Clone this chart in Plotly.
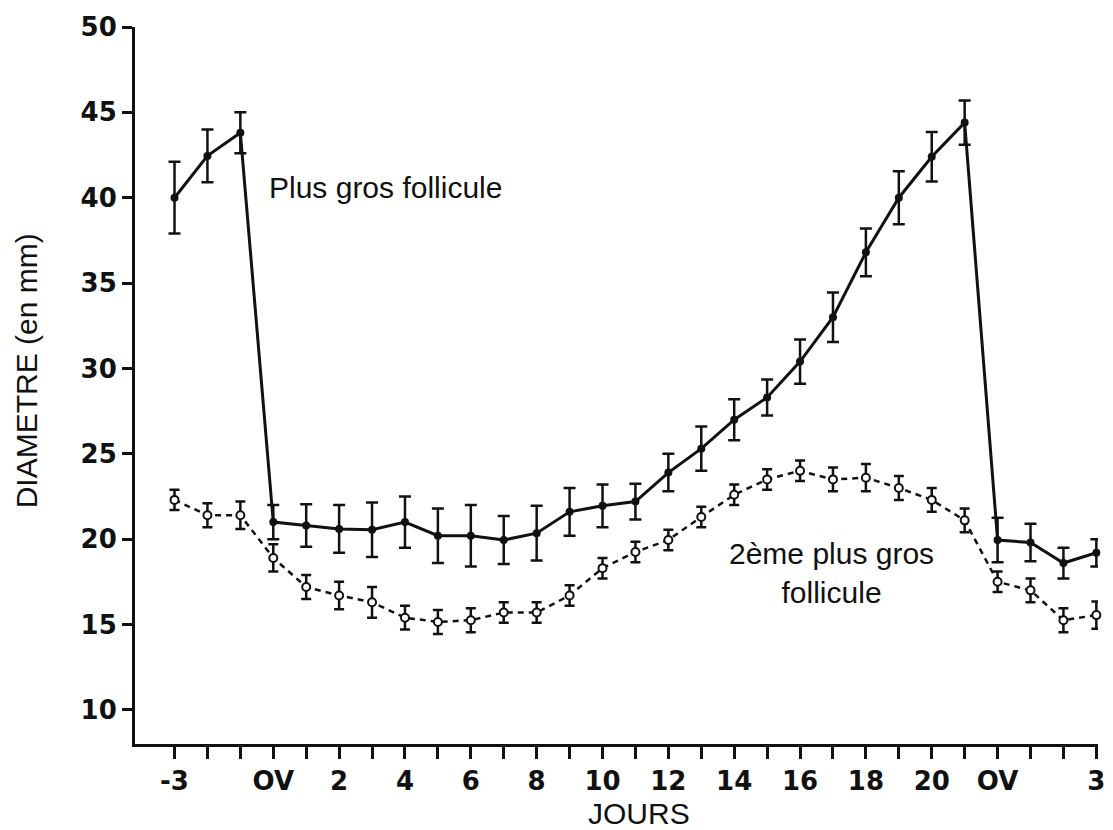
import plotly.graph_objects as go

days = list(range(-3, 26))

plus_gros = [40.0, 42.45, 43.8,
             21.0, 20.8, 20.6, 20.55, 21.0, 20.2, 20.2, 19.95, 20.35, 21.6, 21.95,
             22.2, 23.9, 25.3, 27.0, 28.3, 30.4, 33.0, 36.8, 40.0, 42.4, 44.4,
             19.95, 19.8, 18.6, 19.2]
plus_gros_err = [2.1, 1.55, 1.2,
                 1.0, 1.25, 1.4, 1.6, 1.5, 1.6, 1.8, 1.4, 1.6, 1.4, 1.25,
                 1.05, 1.1, 1.3, 1.2, 1.05, 1.3, 1.45, 1.4, 1.55, 1.45, 1.3,
                 1.3, 1.1, 0.9, 0.8]

deuxieme = [22.3, 21.4, 21.4,
            18.9, 17.2, 16.7, 16.3, 15.4, 15.15, 15.25, 15.7, 15.7, 16.7, 18.3,
            19.25, 19.95, 21.3, 22.6, 23.5, 24.0, 23.5, 23.6, 23.0, 22.3, 21.1,
            17.5, 17.0, 15.25, 15.55]
deuxieme_err = [0.6, 0.7, 0.8,
                0.8, 0.7, 0.8, 0.9, 0.7, 0.7, 0.7, 0.6, 0.6, 0.6, 0.6,
                0.6, 0.6, 0.6, 0.6, 0.6, 0.6, 0.7, 0.8, 0.7, 0.7, 0.7,
                0.6, 0.7, 0.7, 0.8]

tick_labels = {-3: "-3", 0: "OV", 2: "2", 4: "4", 6: "6", 8: "8", 10: "10",
               12: "12", 14: "14", 16: "16", 18: "18", 20: "20", 22: "OV", 25: "3"}
y_ticks = [10, 15, 20, 25, 30, 35, 40, 45, 50]

INK = "#111111"

fig = go.Figure()

fig.add_trace(go.Scatter(
    x=days, y=deuxieme, mode="lines+markers",
    line=dict(color=INK, width=2.5, dash="6px,5px"),
    marker=dict(symbol="circle", size=8, color="white", line=dict(color=INK, width=2)),
    error_y=dict(type="data", array=deuxieme_err, visible=True, color=INK, thickness=2.5, width=5),
    showlegend=False, cliponaxis=False,
))

fig.add_trace(go.Scatter(
    x=days, y=plus_gros, mode="lines+markers",
    line=dict(color=INK, width=3),
    marker=dict(symbol="circle", size=8, color=INK),
    error_y=dict(type="data", array=plus_gros_err, visible=True, color=INK, thickness=2.5, width=6),
    showlegend=False, cliponaxis=False,
))

tick_font = dict(family="DejaVu Sans", size=26, color=INK, weight="bold")
text_font = dict(family="Liberation Sans, Arial, sans-serif", size=30, color=INK)

fig.update_layout(
    width=1113, height=830,
    margin=dict(l=135, r=8, t=27, b=86),
    paper_bgcolor="white", plot_bgcolor="white",
    xaxis=dict(
        range=[-4.2, 25.05],
        tickmode="array",
        tickvals=days,
        ticktext=[tick_labels.get(d, "") for d in days],
        ticks="outside", ticklen=12, tickwidth=2.5, tickcolor=INK,
        showline=True, linecolor=INK, linewidth=3,
        showgrid=False, zeroline=False,
        tickfont=tick_font,
    ),
    yaxis=dict(
        range=[8.0, 50.0],
        tickmode="array",
        tickvals=y_ticks,
        ticktext=[str(v) for v in y_ticks],
        ticks="outside", ticklen=10, tickwidth=2.5, tickcolor=INK,
        showline=True, linecolor=INK, linewidth=3,
        showgrid=False, zeroline=False,
        tickfont=tick_font,
    ),
    annotations=[
        dict(text="Plus gros follicule", x=-0.2, y=40.6, xref="x", yref="y",
             xanchor="left", yanchor="middle", showarrow=False, font=text_font),
        dict(text="2ème plus gros<br>follicule", x=16.95, y=18.0, xref="x", yref="y",
             xanchor="center", yanchor="middle", showarrow=False, font=text_font),
        dict(text="DIAMETRE (en mm)", x=-0.113, y=0.52, xref="paper", yref="paper",
             textangle=-90, xanchor="center", yanchor="middle", showarrow=False, font=text_font),
        dict(text="JOURS", x=0.5238, y=-0.0975, xref="paper", yref="paper",
             xanchor="center", yanchor="middle", showarrow=False, font=text_font),
    ],
)

fig.write_html(
    "out.html",
    config={"displayModeBar": False},
    post_script="document.body.style.margin='0';document.body.style.overflow='hidden';",
)
